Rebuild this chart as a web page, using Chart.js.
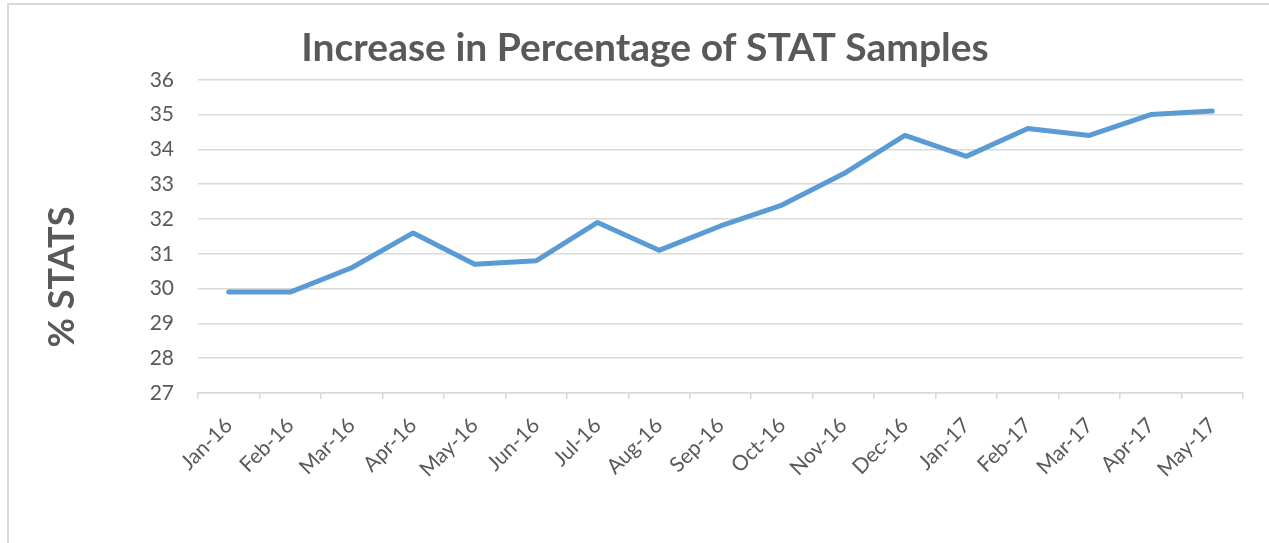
<!DOCTYPE html>
<html>
<head>
<meta charset="utf-8">
<script src="https://cdn.jsdelivr.net/npm/chart.js@4"></script>
<style>
  html, body { margin: 0; padding: 0; background: #fff; }
  #wrap { position: relative; width: 1269px; height: 543px; overflow: hidden; }
  #frame { position: absolute; left: 7px; top: 3px; width: 1400px; height: 700px; border: 2px solid #d9d9d9; box-sizing: border-box; }
  canvas { position: absolute; left: 0; top: 0; }
</style>
</head>
<body>
<div id="wrap">
  <div id="frame"></div>
  <canvas id="statChart" width="1269" height="543"></canvas>
</div>
<script>
// dati
const mesi = ['Jan-16', 'Feb-16', 'Mar-16', 'Apr-16', 'May-16', 'Jun-16', 'Jul-16', 'Aug-16', 'Sep-16',
              'Oct-16', 'Nov-16', 'Dec-16', 'Jan-17', 'Feb-17', 'Mar-17', 'Apr-17', 'May-17'];
const percStat = [29.9, 29.9, 30.6, 31.6, 30.7, 30.8, 31.9, 31.1, 31.8,
                  32.4, 33.3, 34.4, 33.8, 34.6, 34.4, 35.0, 35.1];
const yMin = 27;
const yMax = 36;

const grigio = '#595959';
const fontBase = 'Lato, "Open Sans", sans-serif';

// titolo verticale dell'asse y
const titoloAsseY = {
    id: 'titoloAsseY',
    afterDraw(chart) {
        const ctx = chart.ctx;
        ctx.save();
        ctx.translate(62, 277);
        ctx.rotate(-Math.PI / 2);
        ctx.font = 'bold 36px ' + fontBase;
        ctx.fillStyle = grigio;
        ctx.textAlign = 'center';
        ctx.textBaseline = 'middle';
        ctx.fillText('% STATS', 0, 0);
        ctx.restore();
    }
};

const ctx = document.getElementById('statChart').getContext('2d');
new Chart(ctx, {
    type: 'line',
    data: {
        labels: mesi,
        datasets: [{
            label: '% STATS',
            data: percStat,
            borderColor: '#5b9bd5',
            backgroundColor: '#5b9bd5',
            borderWidth: 5,
            pointRadius: 0,
            tension: 0,
            borderCapStyle: 'round',
            borderJoinStyle: 'round'
        }]
    },
    options: {
        responsive: false,
        animation: false,
        layout: { padding: { left: 47, right: 26, top: 0, bottom: 0 } },
        plugins: {
            legend: { display: false },
            tooltip: { enabled: false },
            title: {
                display: true,
                text: 'Increase in Percentage of STAT Samples',
                color: grigio,
                font: { family: fontBase, size: 39, weight: 'bold' },
                padding: { top: 25, bottom: 8 }
            }
        },
        scales: {
            x: {
                offset: true,
                grid: {
                    offset: true,
                    drawOnChartArea: false,
                    drawTicks: true,
                    tickLength: 6,
                    color: '#d9d9d9',
                    lineWidth: 1.5
                },
                border: { display: true, color: '#d9d9d9', width: 1.5 },
                ticks: {
                    color: grigio,
                    font: { family: fontBase, size: 21 },
                    minRotation: 45,
                    maxRotation: 45,
                    padding: 14,
                    autoSkip: false
                },
                afterFit(scale) {
                    scale.height = 150;
                    scale.paddingLeft = 0;
                    scale.paddingRight = 0;
                }
            },
            y: {
                min: yMin,
                max: yMax,
                grid: {
                    drawTicks: false,
                    color: '#d9d9d9',
                    lineWidth: 1.5
                },
                border: { display: false },
                ticks: {
                    stepSize: 1,
                    color: grigio,
                    font: { family: fontBase, size: 21 },
                    padding: 24
                },
                afterFit(scale) {
                    scale.width = 151;
                }
            }
        }
    },
    plugins: [titoloAsseY]
});
</script>
</body>
</html>
